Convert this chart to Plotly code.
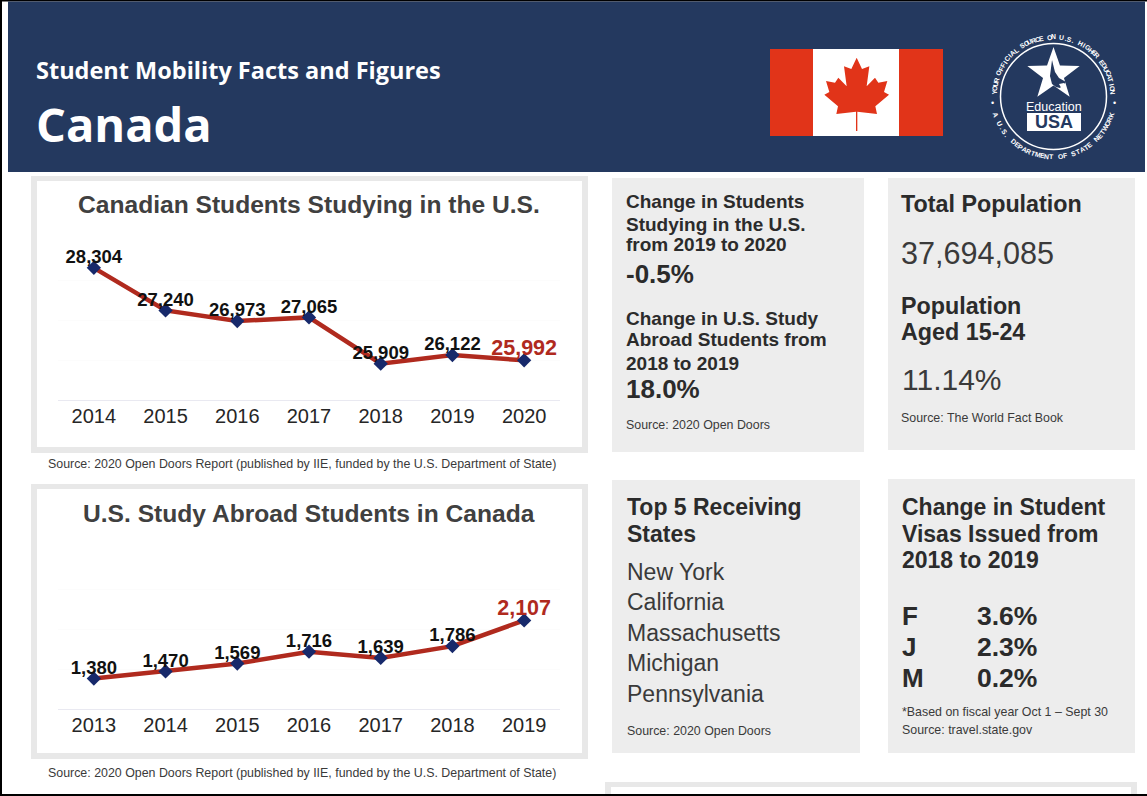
# canada_mobility.py
import math
import plotly.graph_objects as go

W, H = 1147, 796

# data
us_years = ["2014", "2015", "2016", "2017", "2018", "2019", "2020"]
us_students = [28304, 27240, 26973, 27065, 25909, 26122, 25992]
abroad_years = ["2013", "2014", "2015", "2016", "2017", "2018", "2019"]
abroad_students = [1380, 1470, 1569, 1716, 1639, 1786, 2107]

receiving_states = ["New York", "California", "Massachusetts", "Michigan", "Pennsylvania"]
visa_types = ["F", "J", "M"]
visa_changes = ["3.6%", "2.3%", "0.2%"]

NAVY = "#24395f"
RED = "#e13419"
LINE_RED = "#b02a1e"
CARD = "#e8e8e8"
PANEL = "#ededed"
DARK = "#2b2b2b"
GREY = "#3a3a3a"
SANS = "Liberation Sans"
HEAD = "Open Sans"


# pixel helpers, everything outside the two plots is placed in page pixels
def px(x):
    return x / W


def py(y):
    return 1 - y / H


shapes = []
notes = []


def box(x0, y0, x1, y1, color):
    shapes.append(dict(type="rect", xref="paper", yref="paper", layer="below",
                       x0=px(x0), x1=px(x1), y0=py(y0), y1=py(y1),
                       fillcolor=color, line_width=0))


def outline(points, color):
    path = "M" + " L".join(f"{px(a):.5f},{py(b):.5f}" for a, b in points) + " Z"
    shapes.append(dict(type="path", xref="paper", yref="paper", layer="below",
                       path=path, fillcolor=color, line_width=0))


def label(x, y, text, size, bold=False, color=DARK, anchor="left", font=SANS, angle=0):
    shown = f"<b>{text}</b>" if bold else text
    left_fix = 1 if anchor == "left" else 0
    notes.append(dict(x=px(x - left_fix), y=py(y), xref="paper", yref="paper", text=shown,
                      showarrow=False, xanchor=anchor, yanchor="middle", textangle=angle,
                      borderpad=0, font=dict(family=font, size=size, color=color)))


def arc_text(text, cx, cy, r, start, end, size, top=True):
    # one rotated letter at a time, angles in degrees clockwise from 12 o'clock
    step = (end - start) / (len(text) - 1)
    for i, ch in enumerate(text):
        if ch == " ":
            continue
        a = start + i * step
        x = cx + r * math.sin(math.radians(a))
        y = cy - r * math.cos(math.radians(a))
        label(x, y, ch, size, bold=True, color="white", anchor="center",
              angle=a if top else a - 180)


# page frame
box(0, 0, W, 1.5, "black")
box(0, 0, 2, H, "black")
box(0, 794, W, H, "black")

# header band
box(8, 1.5, 1145, 172, NAVY)
label(36, 70, "Student Mobility Facts and Figures", 23.5, bold=True, color="white", font=HEAD)
label(36, 124, "Canada", 47, bold=True, color="white", font=HEAD)

# flag
box(770, 49, 943, 136, RED)
box(813, 49, 899, 136, "white")
half_leaf = [(140, 38), (156, 72), (178, 64), (170, 124), (195, 98), (205, 113), (232, 108),
             (222, 141), (237, 149), (196, 184), (201, 207), (142, 200), (142, 258)]
leaf = half_leaf + [(280 - a, b) for a, b in reversed(half_leaf)]
outline([(810 + a / 3, 45 + b / 3) for a, b in leaf], RED)

# EducationUSA seal
CX, CY = 1053.5, 96.5
shapes.append(dict(type="circle", xref="paper", yref="paper", layer="below",
                   x0=px(CX - 53), x1=px(CX + 53), y0=py(CY - 53), y1=py(CY + 53),
                   fillcolor=NAVY, line=dict(color="white", width=1.5)))
star = []
for k in range(10):
    rad = 27.5 if k % 2 == 0 else 11
    ang = math.radians(k * 36)
    star.append((CX + rad * math.sin(ang), 74.5 - rad * math.cos(ang)))
outline(star, "white")
outline([(1052, 60), (1055, 72), (1059, 78), (1066, 82), (1060, 88), (1056, 87), (1052, 84), (1050, 76)], NAVY)
outline([(1059, 84), (1064, 83), (1066, 89), (1063, 91)], "white")
label(CX, 106.5, "Education", 12.5, color="white", anchor="center")
box(1027, 113, 1081, 131, "white")
label(CX, 122.5, "USA", 18, bold=True, color=NAVY, anchor="center")
arc_text("YOUR OFFICIAL SOURCE ON U.S. HIGHER EDUCATION", CX, CY, 59.5, -86, 86, 6.8)
arc_text("A U.S. DEPARTMENT OF STATE NETWORK", CX, CY, 60.5, 252, 108, 6.8, top=False)
label(CX - 61, 103, "•", 9, color="white", anchor="center")
label(CX + 61, 103, "•", 9, color="white", anchor="center")

# chart cards
for y0, y1 in [(176, 453), (484, 759)]:
    box(31, y0, 588, y1, CARD)
    box(37, y0 + 5, 582, y1 - 6, "white")
label(309, 205, "Canadian Students Studying in the U.S.", 24.6, bold=True, color="#404040", anchor="center")
label(309, 513, "U.S. Study Abroad Students in Canada", 24.6, bold=True, color="#404040", anchor="center")
label(48, 464, "Source: 2020 Open Doors Report (published by IIE, funded by the U.S. Department of State)", 12.4, color=GREY)
label(48, 773, "Source: 2020 Open Doors Report (published by IIE, funded by the U.S. Department of State)", 12.4, color=GREY)

# grey fact panels
box(612, 178, 864, 452, PANEL)
box(888, 178, 1135, 450, PANEL)
box(612, 480, 860, 753, PANEL)
box(888, 479, 1135, 753, PANEL)
box(605, 782, 1137, 794, CARD)
box(611, 787, 1131, 794, "white")

for y, line in [(202, "Change in Students"), (224, "Studying in the U.S."), (245, "from 2019 to 2020"),
                (318, "Change in U.S. Study"), (340, "Abroad Students from"), (363, "2018 to 2019")]:
    label(626, y, line, 19, bold=True)
label(626, 274, "-0.5%", 26, bold=True)
label(626, 389, "18.0%", 26, bold=True)
label(626, 425, "Source: 2020 Open Doors", 12.4, color=GREY)

label(901, 204, "Total Population", 23.3, bold=True)
label(901, 253, "37,694,085", 30.6, color=GREY)
label(901, 306, "Population", 23.3, bold=True)
label(901, 332, "Aged 15-24", 23.3, bold=True)
label(902, 380, "11.14%", 30, color=GREY)
label(901, 418, "Source: The World Fact Book", 12.4, color=GREY)

label(627, 507, "Top 5 Receiving", 23, bold=True)
label(627, 534, "States", 23, bold=True)
for y, state in zip([572, 602, 633, 663, 694], receiving_states):
    label(627, y, state, 23, color=GREY)
label(627, 731, "Source: 2020 Open Doors", 12.4, color=GREY)

label(902, 507, "Change in Student", 23, bold=True)
label(902, 534, "Visas Issued from", 23, bold=True)
label(902, 560, "2018 to 2019", 23, bold=True)
for y, kind, change in zip([616, 647, 678], visa_types, visa_changes):
    label(902, y, kind, 26, bold=True)
    label(977, y, change, 26.5, bold=True)
label(902, 712, "*Based on fiscal year Oct 1 – Sept 30", 12.4, color=GREY)
label(902, 730, "Source: travel.state.gov", 12.4, color=GREY)


def line_traces(years, values, xaxis, yaxis):
    colors = ["#111111"] * (len(values) - 1) + [LINE_RED]
    sizes = [18.5] * (len(values) - 1) + [21.5]
    marks = go.Scatter(
        x=years, y=values, xaxis=xaxis, yaxis=yaxis, mode="lines+markers",
        line=dict(color=LINE_RED, width=4.5),
        marker=dict(symbol="diamond", size=11, color="#17296b"),
        showlegend=False, hoverinfo="x+y",
    )
    texts = go.Scatter(
        x=years, y=values, xaxis=xaxis, yaxis=yaxis, mode="text",
        text=[f"<b>{v:,}</b>" for v in values], textposition="top center",
        textfont=dict(family=SANS, color=colors, size=sizes), cliponaxis=False,
        showlegend=False, hoverinfo="skip",
    )
    return [marks, texts]


fig = go.Figure()
fig.add_traces(line_traces(us_years, us_students, "x", "y"))
fig.add_traces(line_traces(abroad_years, abroad_students, "x2", "y2"))

x_style = dict(type="category", range=[-0.5, 6.5], showgrid=False, zeroline=False,
               showline=True, linecolor="#e9e9f1", linewidth=1, ticks="", ticklen=0,
               ticklabelstandoff=-2,
               tickfont=dict(family=SANS, size=20, color="#262626"))
y_style = dict(showticklabels=False, zeroline=False, showline=False, ticks="",
               showgrid=True, gridcolor="#fcfcfc")

fig.update_layout(
    width=W, height=H, margin=dict(l=0, r=0, t=0, b=0), autosize=False,
    paper_bgcolor="white", plot_bgcolor="rgba(0,0,0,0)",
    font=dict(family=SANS), shapes=shapes, annotations=notes,
    xaxis=dict(domain=[px(58), px(560)], anchor="y", **x_style),
    yaxis=dict(domain=[py(400), py(240)], anchor="x", range=[25000, 29000], dtick=1000, **y_style),
    xaxis2=dict(domain=[px(58), px(560)], anchor="y2", **x_style),
    yaxis2=dict(domain=[py(709), py(549)], anchor="x2", range=[1000, 3000], dtick=500, **y_style),
)

fig.write_html("out.html", config={"displayModeBar": False},
               post_script="document.body.style.margin='0';")
